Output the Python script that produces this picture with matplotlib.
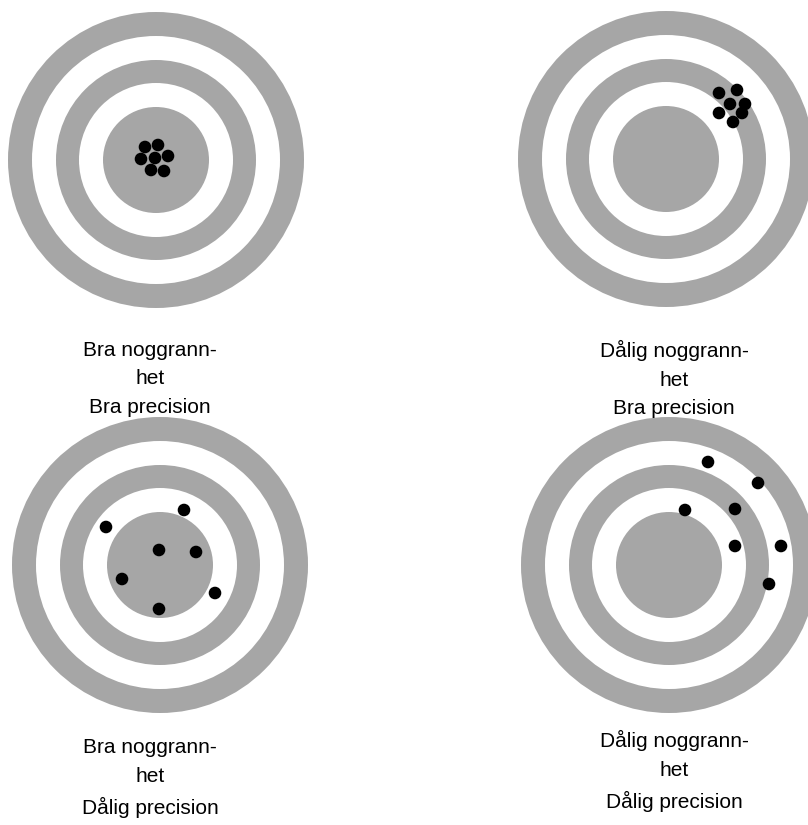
import matplotlib.pyplot as plt
from matplotlib.patches import Circle

# ring radii (outer to inner), alternating gray / white
ring_radii = [148, 124, 100, 77, 53]
ring_colors = ['#a6a6a6', 'white', '#a6a6a6', 'white', '#a6a6a6']

# target centres (pixels) and shot offsets from the centre
centers = [(156, 160), (666, 159), (160, 565), (669, 565)]

shots_dx = [
    [-11, 2, -15, -1, 12, -5, 8],
    [53, 71, 64, 79, 53, 76, 67],
    [-54, 24, -1, 36, -38, 55, -1],
    [39, 89, 16, 66, 66, 112, 100],
]
shots_dy = [
    [-13, -15, -1, -2, -4, 10, 11],
    [-66, -69, -55, -55, -46, -46, -37],
    [-38, -55, -15, -13, 14, 28, 44],
    [-103, -82, -55, -56, -19, -19, 19],
]

labels = [
    "Bra noggrann-\nhet\nBra precision",
    "Dålig noggrann-\nhet\nBra precision",
    "Bra noggrann-\nhet\nDålig precision",
    "Dålig noggrann-\nhet\nDålig precision",
]
label_pos = [(150, 379), (674, 379), (150, 778), (674, 771)]

fig = plt.figure(figsize=(8.08, 8.25), dpi=100)
ax = fig.add_axes([0, 0, 1, 1])
ax.set_xlim(0, 808)
ax.set_ylim(825, 0)
ax.set_aspect('equal')
ax.axis('off')

for (cx, cy), dxs, dys in zip(centers, shots_dx, shots_dy):
    for r, c in zip(ring_radii, ring_colors):
        ax.add_patch(Circle((cx, cy), r, color=c, lw=0))
    for dx, dy in zip(dxs, dys):
        ax.add_patch(Circle((cx + dx, cy + dy), 6.3, color='black', lw=0, zorder=3))

for (x, y), txt in zip(label_pos, labels):
    ax.text(x, y, txt, ha='center', va='center', fontsize=15,
            family='Liberation Sans', linespacing=1.63, zorder=4)

fig.savefig('out.png', dpi=100)
